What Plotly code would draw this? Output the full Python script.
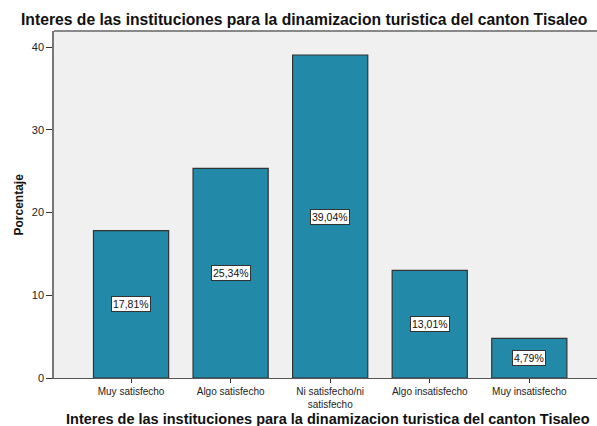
import plotly.graph_objects as go

categories = ["Muy satisfecho", "Algo satisfecho", "Ni satisfecho/ni<br>satisfecho",
              "Algo insatisfecho", "Muy insatisfecho"]
values = [17.81, 25.34, 39.04, 13.01, 4.79]
labels = ["17,81%", "25,34%", "39,04%", "13,01%", "4,79%"]
title = "Interes de las instituciones para la dinamizacion turistica del canton Tisaleo"

x_idx = list(range(len(categories)))

fig = go.Figure()
fig.add_trace(go.Bar(
    x=x_idx, y=values, width=0.755,
    marker=dict(color="#2389A9", line=dict(color="#333333", width=1.2)),
    hoverinfo="skip",
))

for xi, v, lab in zip(x_idx, values, labels):
    fig.add_annotation(x=xi, y=v / 2, text=lab, showarrow=False,
                       font=dict(family="Liberation Sans, Arial", size=10.5, color="#111111"),
                       bgcolor="white", bordercolor="#333333", borderwidth=1, borderpad=1)

# titles as annotations positioned relative to the plot area
fig.add_annotation(xref="paper", yref="paper", x=0.4604, y=1, yshift=11.5, yanchor="middle",
                   text="<b>" + title + "</b>", showarrow=False,
                   font=dict(family="Liberation Sans, Arial", size=15.7, color="#111111"))
fig.add_annotation(xref="paper", yref="paper", x=0.5046, y=0, yshift=-41, yanchor="middle",
                   text="<b>" + title + "</b>", showarrow=False,
                   font=dict(family="Liberation Sans, Arial", size=14.5, color="#111111"))
fig.add_annotation(xref="paper", yref="paper", x=0, xshift=-36, y=0.5, xanchor="center",
                   text="<b>Porcentaje</b>", textangle=-90, showarrow=False,
                   font=dict(family="Liberation Sans, Arial", size=12, color="#111111"))

fig.update_layout(
    width=597, height=426,
    margin=dict(l=54, r=0, t=31, b=48, autoexpand=False),
    paper_bgcolor="white", plot_bgcolor="#F0F0F0",
    showlegend=False,
    font=dict(family="Liberation Sans, Arial", size=10, color="#333333"),
    xaxis=dict(
        range=[-0.774, 4.68], tickmode="array", tickvals=x_idx, ticktext=categories,
        showgrid=False, zeroline=False, showline=True, linecolor="#555555", linewidth=1,
        ticks="outside", ticklen=4, tickcolor="#333333", automargin=False,
        tickfont=dict(size=10, color="#222222"),
    ),
    yaxis=dict(
        range=[0, 41.94], tickvals=[0, 10, 20, 30, 40],
        showgrid=False, zeroline=False, showline=True, linecolor="#777777", linewidth=1.5,
        ticks="outside", ticklen=6, tickcolor="#333333", automargin=False,
        tickfont=dict(size=11, color="#222222"),
    ),
)

fig.add_shape(type="line", xref="paper", yref="paper", x0=0, x1=1, y0=1, y1=1,
              line=dict(color="#888888", width=2))

fig.write_html("out.html", config={"displayModeBar": False},
               post_script="document.body.style.margin='0';document.body.style.overflow='hidden';")
